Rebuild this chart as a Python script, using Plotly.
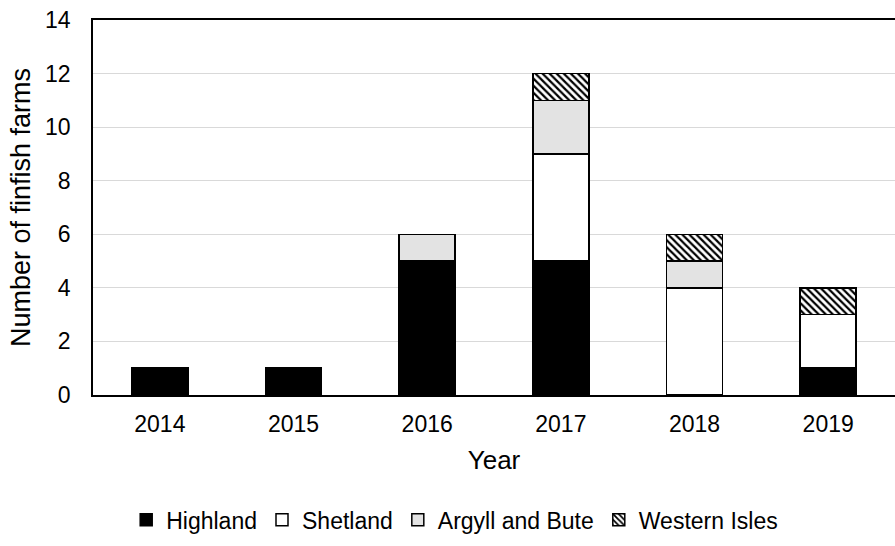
import plotly.graph_objects as go

years = ["2014", "2015", "2016", "2017", "2018", "2019"]
highland = [1, 1, 5, 5, 0, 1]
shetland = [0, 0, 0, 4, 4, 2]
argyll_bute = [0, 0, 1, 2, 1, 0]
western_isles = [0, 0, 0, 1, 1, 1]

series = [
    ("Highland", highland, "#000000", ""),
    ("Shetland", shetland, "#FFFFFF", ""),
    ("Argyll and Bute", argyll_bute, "#E3E3E3", ""),
    ("Western Isles", western_isles, "#FFFFFF", "\\"),
]

fig = go.Figure()
for name, vals, color, shape in series:
    marker = dict(color=color, line=dict(color="#000000", width=1.5))
    if shape:
        marker["pattern"] = dict(shape=shape, fgcolor="#000000", bgcolor="#FFFFFF",
                                 size=5, solidity=0.45, fillmode="replace")
    fig.add_trace(go.Bar(x=years, y=vals, name=name, marker=marker))

font = "Liberation Sans, Arial, sans-serif"
fig.update_layout(
    barmode="stack",
    bargap=0.58,
    width=895,
    height=546,
    margin=dict(l=93, r=0, t=20, b=151, autoexpand=False),
    plot_bgcolor="#FFFFFF",
    paper_bgcolor="#FFFFFF",
    font=dict(family=font, size=23, color="#000000"),
    legend=dict(orientation="h", x=0.451, xanchor="center", y=-0.333, yanchor="middle",
                font=dict(size=23), itemwidth=30, traceorder="normal"),
    xaxis=dict(
        title=dict(text="Year", font=dict(size=26), standoff=14),
        showline=True, linecolor="#000000", linewidth=1.5, mirror=True,
        ticks="", showgrid=False, automargin=False, ticklabelstandoff=8,
    ),
    yaxis=dict(
        title=dict(text="Number of finfish farms", font=dict(size=27), standoff=7),
        range=[0, 14], dtick=2,
        showline=True, linecolor="#000000", linewidth=1.5,
        gridcolor="#D9D9D9", gridwidth=1, zeroline=False,
        ticks="", automargin=False, ticklabelstandoff=16,
    ),
)

fig.write_html("out.html")
